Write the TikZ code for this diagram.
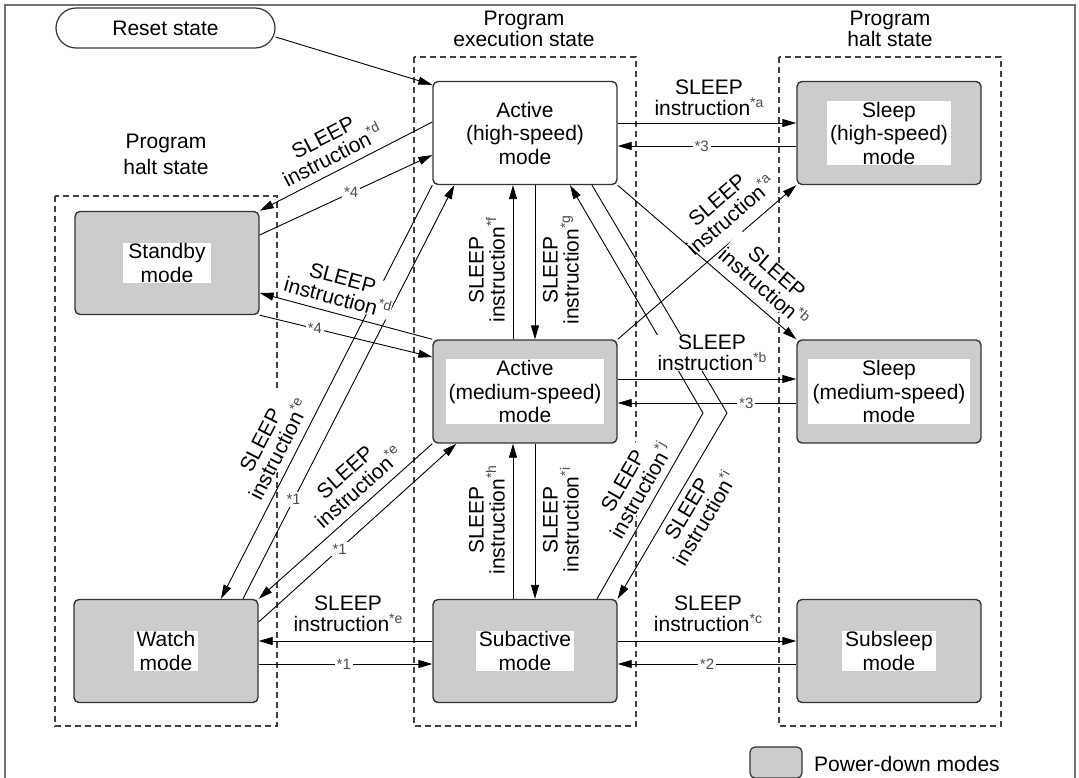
\documentclass[tikz,border=0pt]{standalone}
\usepackage{fontspec}
\setmainfont{Liberation Sans}
\usetikzlibrary{arrows.meta,calc}
\newcommand\sx[1]{\raisebox{8.5pt}{\fontsize{14}{14}\selectfont\color{black!70}*#1}}
\begin{document}
\begin{tikzpicture}[x=1pt,y=-1pt,
  every node/.style={font=\fontsize{21}{24}\selectfont},
  mode/.style={draw=black!80, line width=1.4pt, rounded corners=5pt, minimum width=184pt, minimum height=103pt, inner sep=0pt},
  pd/.style={mode, fill=black!20},
  act/.style={mode, fill=white},
  txt/.style={fill=white, inner xsep=3pt, inner ysep=1pt, align=center, font=\fontsize{21}{23.5}\selectfont},
  region/.style={draw=black!75, line width=1.2pt, dash pattern=on 6pt off 4pt},
  arr/.style={-{Triangle[length=14pt,width=8pt]}, line width=0.9pt},
  lab/.style={fill=white, inner sep=0.5pt, align=center, font=\fontsize{21}{21}\selectfont},
  num/.style={fill=white, inner sep=2pt, text=black!70, font=\fontsize{15}{15}\selectfont},
  grp/.style={align=center, inner sep=0pt},
]
\useasboundingbox (0,0) rectangle (1079,778);
\draw[black!55, line width=1.5pt] (5,5) rectangle (1075,782);

% regions
\draw[region] (55,196) rectangle (277,726);
\draw[region] (414,57) rectangle (636,726);
\draw[region] (779,57) rectangle (1001,726);
\node[grp, font=\fontsize{21}{26}\selectfont] (g1) at (166,154.5) {Program\\halt state};
\node[grp, font=\fontsize{21}{21}\selectfont] (g2) at (524,28.5) {Program\\execution state};
\node[grp, font=\fontsize{21}{21}\selectfont] (g3) at (890,28.5) {Program\\halt state};

% reset
\node[draw=black!80, line width=1.2pt, rounded corners=20pt, minimum width=219pt, minimum height=40pt, inner sep=0pt, fill=white] (reset) at (165.5,28) {Reset state};

% modes
\node[act] (ah) at (525,133) {};
\node[txt] (aht) at (ah) {Active\\(high-speed)\\mode};
\node[pd] (sh) at (889,133) {};
\node[txt] (sht) at (sh) {Sleep\\(high-speed)\\mode};
\node[pd] (sb) at (167,263) {};
\node[txt, inner xsep=5pt] (sbt) at (sb) {Standby\\mode};
\node[pd] (am) at (525,391.5) {};
\node[txt] (amt) at (am) {Active\\(medium-speed)\\mode};
\node[pd] (sm) at (889,391.5) {};
\node[txt, inner xsep=5pt] (smt) at (sm) {Sleep\\(medium-speed)\\mode};
\node[pd] (wa) at (166,651) {};
\node[txt] (wat) at (wa) {Watch\\mode};
\node[pd] (sa) at (525,651) {};
\node[txt] (sat) at (sa) {Subactive\\mode};
\node[pd] (ss) at (889,651) {};
\node[txt] (sst) at (ss) {Subsleep\\mode};

% connectors
\draw[arr] ([yshift=-9pt]reset.east) -- ([yshift=-4pt]ah.north west);
\draw[arr] ([yshift=10pt]ah.east) -- ([yshift=10pt]sh.west);
\draw[arr] ([yshift=-13pt]sh.west) -- node[num, pos=0.53] {*3} ([yshift=-13pt]ah.east);
\draw[arr] ([yshift=12.5pt]am.east) -- ([yshift=12.5pt]sm.west);
\draw[arr] ([yshift=-11.5pt]sm.west) -- node[num, pos=0.28] {*3} ([yshift=-11.5pt]am.east);
\draw[arr] ([yshift=10pt]sa.east) -- ([yshift=10pt]ss.west);
\draw[arr] ([yshift=-13pt]ss.west) -- node[num, pos=0.5] {*2} ([yshift=-13pt]sa.east);
\draw[arr] ([yshift=10pt]sa.west) -- ([yshift=10pt]wa.east);
\draw[arr] ([yshift=-13pt]wa.east) -- node[num, pos=0.49] {*1} ([yshift=-13pt]sa.west);

\draw[arr] ([yshift=11pt]ah.west) -- (sb.north east);
\draw[arr] ([yshift=28pt]sb.east) -- node[num, pos=0.53] {*4} ([yshift=-22pt]ah.west);
\draw[arr] (am.north west) -- ([yshift=-30pt]sb.east);
\draw[arr] (sb.south east) -- node[num, pos=0.32] {*4} ([yshift=34.5pt]am.west);
\draw[arr] (ah.south west) -- ([xshift=55pt]wa.north);
\draw[arr] ([xshift=77pt]wa.north) -- node[num, pos=0.24] {*1} ([xshift=22pt]ah.south west);
\draw[arr] (am.south west) -- (wa.north east);
\draw[arr] ([yshift=29pt]wa.east) -- node[num, pos=0.41] {*1} ([xshift=24pt]am.south west);

\draw[arr] ([xshift=-12pt]am.north) -- ([xshift=-12pt]ah.south);
\draw[arr] ([xshift=10pt]ah.south) -- ([xshift=10pt]am.north);
\draw[arr] ([xshift=10pt]am.south) -- ([xshift=10pt]sa.north);
\draw[arr] ([xshift=-12pt]sa.north) -- ([xshift=-12pt]am.south);

\coordinate (vA) at (703,413);
\coordinate (vB) at (727,413);
\draw[arr] ([xshift=72pt]sa.north) -- (vA) -- ([xshift=45pt]ah.south);
\draw[arr] ([xshift=67pt]ah.south) -- (vB) -- (sa.north east);
\draw[arr] (am.north east) -- (sh.south west);

% labels
\node[lab] (l2) at (709,98) {SLEEP\\instruction\sx{a}};
\node[lab] (l4) at (712,353) {SLEEP\\instruction\sx{b}};
\node[lab] (l6) at (708,614) {SLEEP\\instruction\sx{c}};
\node[lab] (l8) at (348,614) {SLEEP\\instruction\sx{e}};
\node[lab, rotate=27.3] (l10) at (328,147) {SLEEP\\instruction\sx{d}};
\node[lab, rotate=-15.1] (l12) at (340,288) {SLEEP\\instruction\sx{d}};
\node[lab, rotate=62.9] (l14) at (270,445) {SLEEP\\instruction\sx{e}};
\node[lab, rotate=41.7] (l16) at (352,480) {SLEEP\\instruction\sx{e}};
\node[lab, rotate=90] (l18) at (487,270) {SLEEP\\instruction\sx{f}};
\node[lab, rotate=90] (l19) at (561,270) {SLEEP\\instruction\sx{g}};
\node[lab, rotate=90] (l21) at (487,520) {SLEEP\\instruction\sx{h}};
\node[lab, rotate=90] (l20) at (561,520) {SLEEP\\instruction\sx{i}};
\node[lab, rotate=60.3] (l22) at (632,486) {SLEEP\\instruction\sx{j}};
\node[lab, rotate=59.4] (l23) at (696,514) {SLEEP\\instruction\sx{i}};
\node[lab, rotate=40.7] (l24) at (724,208) {SLEEP\\instruction\sx{a}};
\draw[arr] (ah.south east) -- (sm.north west);
\node[lab, rotate=-40.9] (l25) at (770,280) {SLEEP\\instruction\sx{b}};

% legend
\node[draw=black!80, line width=1.2pt, rounded corners=5pt, fill=black!20, minimum width=52pt, minimum height=31pt, inner sep=0pt] (leg) at (776,762.5) {};
\node[anchor=west, inner sep=0pt] (legt) at (814,763.5) {Power-down modes};
\end{tikzpicture}
\end{document}
